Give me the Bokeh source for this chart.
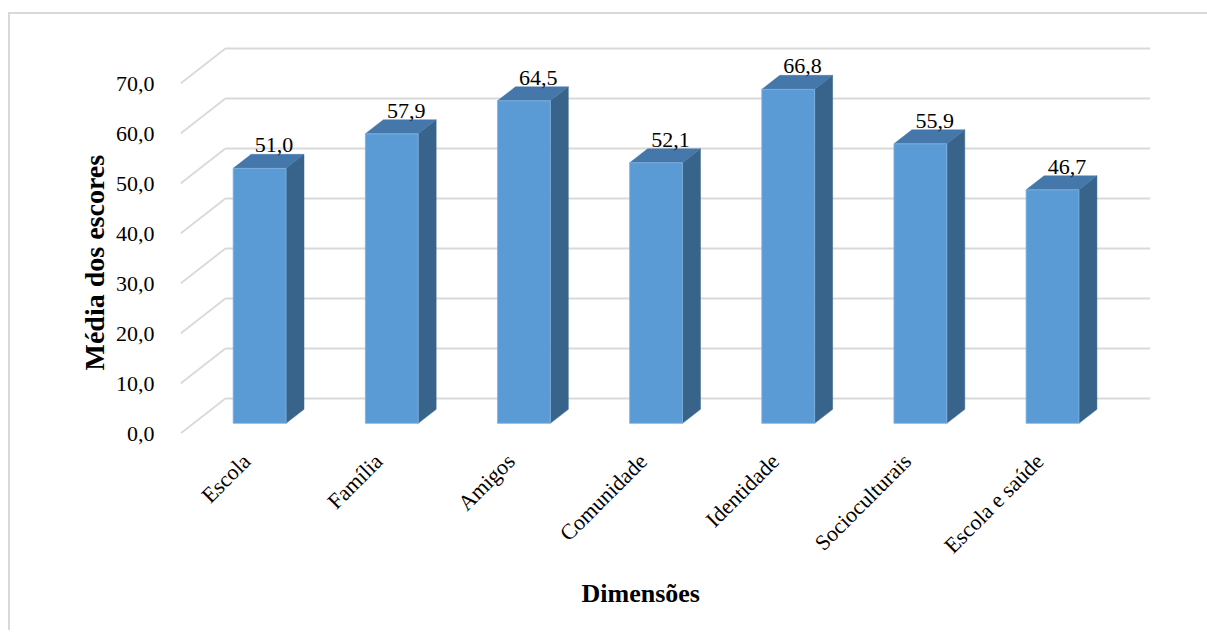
import math
from bokeh.plotting import figure
from bokeh.models import FixedTicker, Range1d, Title
from bokeh.core.properties import value
from bokeh.embed import file_html
from bokeh.resources import INLINE

# ---- data -------------------------------------------------------------
dimensions = ["Escola", "Família", "Amigos", "Comunidade", "Identidade",
              "Socioculturais", "Escola e saúde"]
scores = [51.0, 57.9, 64.5, 52.1, 66.8, 55.9, 46.7]
y_ticks = [0, 10, 20, 30, 40, 50, 60, 70]

# ---- oblique 3D projection parameters (data units) --------------------
DX = 0.34        # horizontal shift of the back wall, in category units
DY = 7.0         # vertical shift of the back wall, in value units
Z_FRONT = 0.29   # depth of the bar front faces (0 = front plane, 1 = back wall)
Z_BACK = 0.69    # depth of the bar back faces
GAP = 0.30       # space on each side of a bar inside its slot
BAR_W = 0.40     # bar width in category units

FONT = "Liberation Serif"
FRONT_COLOR = "#5B9BD5"
TOP_COLOR = "#4677AA"
SIDE_COLOR = "#38648C"
GRID_COLOR = "#d9d9d9"

# chart-area frame (top and left edges) painted behind the transparent canvas border
chart_area_css = ("linear-gradient(#d9d9d9, #d9d9d9) 8px 12px / 2px 100% no-repeat, "
                  "linear-gradient(#d9d9d9, #d9d9d9) 8px 12px / 100% 2px no-repeat, "
                  "white")

n = len(dimensions)
p = figure(width=1207, height=630, output_backend="svg", toolbar_location=None,
           x_range=Range1d(0, n + DX), y_range=Range1d(0, 78.6),
           min_border_left=180, min_border_right=57,
           min_border_top=40, min_border_bottom=197,
           styles={"background": chart_area_css})
p.xgrid.grid_line_color = None
p.ygrid.grid_line_color = None
p.outline_line_color = None
p.background_fill_color = "white"
p.border_fill_color = None

# ---- walls: side-wall diagonals and back-wall gridlines -----------------
diag_x0 = [0.0 for _ in y_ticks]
diag_y0 = [float(t) for t in y_ticks]
diag_x1 = [DX for _ in y_ticks]
diag_y1 = [t + DY for t in y_ticks]
p.segment(diag_x0, diag_y0, diag_x1, diag_y1, line_color=GRID_COLOR, line_width=1.8)
p.segment(diag_x1, diag_y1, [n + DX for _ in y_ticks], diag_y1,
          line_color=GRID_COLOR, line_width=1.8)

# ---- bars ---------------------------------------------------------------
sx_f, sy_f = Z_FRONT * DX, Z_FRONT * DY
ddx, ddy = (Z_BACK - Z_FRONT) * DX, (Z_BACK - Z_FRONT) * DY
left = [i + GAP + sx_f for i in range(n)]
right = [l + BAR_W for l in left]
base = [sy_f for _ in scores]
top = [sy_f + v for v in scores]

side_xs = [[r, r + ddx, r + ddx, r] for r in right]
side_ys = [[b, b + ddy, t + ddy, t] for b, t in zip(base, top)]
p.patches(side_xs, side_ys, fill_color=SIDE_COLOR, line_color=SIDE_COLOR, line_width=0.5)

top_xs = [[l, r, r + ddx, l + ddx] for l, r in zip(left, right)]
top_ys = [[t, t, t + ddy, t + ddy] for t in top]
p.patches(top_xs, top_ys, fill_color=TOP_COLOR, line_color=TOP_COLOR, line_width=0.5)

p.quad(left=left, right=right, bottom=base, top=top,
       fill_color=FRONT_COLOR, line_color="#7fb2e0", line_width=0.8)

# value labels over each bar
label_x = [(l + r) / 2 + 0.32 * DX for l, r in zip(left, right)]
label_y = [t + ddy for t in top]
label_text = [f"{v:.1f}".replace(".", ",") for v in scores]
p.text(label_x, label_y, text=label_text, text_align="center",
       text_baseline="bottom", y_offset=-2, text_font=value(FONT),
       text_font_size="22px", text_color="#000000")

# ---- axes ---------------------------------------------------------------
p.yaxis.ticker = FixedTicker(ticks=y_ticks)
p.yaxis.major_label_overrides = {t: f"{t:.1f}".replace(".", ",") for t in y_ticks}
p.yaxis.axis_line_color = None
p.yaxis.major_tick_line_color = None
p.yaxis.minor_tick_line_color = None
p.yaxis.major_label_standoff = 20
p.yaxis.major_label_text_font = FONT
p.yaxis.major_label_text_font_size = "22px"
p.yaxis.major_label_text_color = "#000000"

x_centres = [i + 0.5 for i in range(n)]
p.xaxis.ticker = FixedTicker(ticks=x_centres)
p.xaxis.major_label_overrides = {c: d for c, d in zip(x_centres, dimensions)}
p.xaxis.major_label_orientation = math.pi / 4
p.xaxis.axis_line_color = None
p.xaxis.major_tick_line_color = None
p.xaxis.minor_tick_line_color = None
p.xaxis.major_label_standoff = 18
p.xaxis.major_label_text_font = FONT
p.xaxis.major_label_text_font_size = "22px"
p.xaxis.major_label_text_color = "#000000"

# axis titles
p.add_layout(Title(text="Dimensões", align="left", offset=401, standoff=14,
                   text_font=FONT, text_font_size="26px", text_font_style="bold",
                   text_color="#000000"), "below")
p.add_layout(Title(text="Média dos escores", align="left", offset=63, standoff=6,
                   text_font=FONT, text_font_size="28px", text_font_style="bold",
                   text_color="#000000"), "left")

open("out.html", "w").write(file_html(p, INLINE))
